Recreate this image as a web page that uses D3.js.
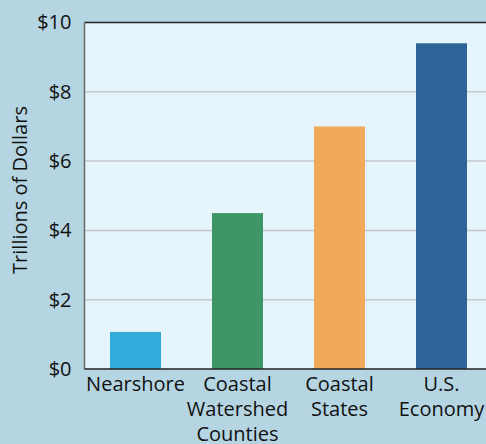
<!DOCTYPE html>
<html>
<head>
<meta charset="utf-8">
<script src="https://cdn.jsdelivr.net/npm/d3@7"></script>
<style>
  body { margin: 0; background: #b5d5e2; }
  text { font-family: "Open Sans", "Noto Sans", sans-serif; fill: #111; }
</style>
</head>
<body>
<div id="chart"></div>
<script>
// Chart data
var categories = ["Nearshore", "Coastal Watershed Counties", "Coastal States", "U.S. Economy"];
var labelLines = [["Nearshore"], ["Coastal", "Watershed", "Counties"], ["Coastal", "States"], ["U.S.", "Economy"]];
var values = [1.07, 4.5, 7.0, 9.4];
var colors = ["#33abdb", "#3e9565", "#f0aa5a", "#2e6497"];
var yTicks = [0, 2, 4, 6, 8, 10];

var width = 486,
    height = 444;

var plotLeft = 84.5,
    plotTop = 22.5,
    plotBottom = 369;

var svg = d3.select("#chart")
    .append("svg")
    .attr("width", width)
    .attr("height", height);

svg.append("rect")
    .attr("width", width)
    .attr("height", height)
    .attr("fill", "#b5d5e2");

var x = d3.scaleBand()
    .domain(categories)
    .range([plotLeft, plotLeft + 408])
    .paddingInner(0.5)
    .paddingOuter(0.25);

var y = d3.scaleLinear()
    .domain([0, 10])
    .range([plotBottom, plotTop]);

// plot background
svg.append("rect")
    .attr("x", plotLeft)
    .attr("y", plotTop)
    .attr("width", width - plotLeft)
    .attr("height", plotBottom - plotTop)
    .attr("fill", "#e6f4fb");

// gridlines
svg.selectAll(".grid")
    .data(yTicks.filter(function(d) { return d > 0 && d < 10; }))
    .enter()
    .append("line")
    .attr("x1", plotLeft)
    .attr("x2", width)
    .attr("y1", function(d) { return y(d); })
    .attr("y2", function(d) { return y(d); })
    .attr("stroke", "#c4c8ca")
    .attr("stroke-width", 1.5);

// bars
svg.selectAll(".bar")
    .data(values)
    .enter()
    .append("rect")
    .attr("x", function(d, i) { return x(categories[i]); })
    .attr("width", x.bandwidth())
    .attr("y", function(d) { return y(d); })
    .attr("height", function(d) { return y(0) - y(d); })
    .attr("fill", function(d, i) { return colors[i]; });

// frame lines
svg.append("line")
    .attr("x1", plotLeft).attr("x2", width)
    .attr("y1", plotTop).attr("y2", plotTop)
    .attr("stroke", "#222").attr("stroke-width", 1.5);
svg.append("line")
    .attr("x1", plotLeft).attr("x2", plotLeft)
    .attr("y1", plotTop).attr("y2", plotBottom)
    .attr("stroke", "#666").attr("stroke-width", 1.5);
svg.append("line")
    .attr("x1", plotLeft).attr("x2", width)
    .attr("y1", plotBottom).attr("y2", plotBottom)
    .attr("stroke", "#222").attr("stroke-width", 1.5);

// y axis labels
var yAxis = d3.axisLeft(y)
    .tickValues(yTicks)
    .tickSize(0)
    .tickPadding(13)
    .tickFormat(function(d) { return "$" + d; });

var yG = svg.append("g")
    .attr("transform", "translate(" + plotLeft + ",0)")
    .call(yAxis);
yG.select(".domain").remove();
yG.selectAll("text")
    .style("font-size", "20px")
    .attr("fill", "#111");

// x labels
svg.selectAll(".xlab")
    .data(categories)
    .enter()
    .append("text")
    .attr("text-anchor", "middle")
    .attr("x", function(d) { return x(d) + x.bandwidth() / 2; })
    .attr("y", 391)
    .style("font-size", "20px")
    .each(function(d, i) {
        var t = d3.select(this);
        labelLines[i].forEach(function(line, j) {
            t.append("tspan")
                .attr("x", x(d) + x.bandwidth() / 2)
                .attr("dy", j === 0 ? 0 : 25)
                .text(line);
        });
    });

// y axis title
svg.append("text")
    .attr("transform", "translate(27,190) rotate(-90)")
    .attr("text-anchor", "middle")
    .style("font-size", "20px")
    .text("Trillions of Dollars");
</script>
</body>
</html>
